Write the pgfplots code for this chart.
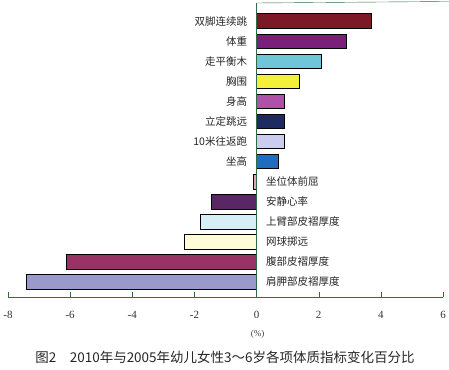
\documentclass[border=0pt]{standalone}
\usepackage{pgfplots}
\pgfplotsset{compat=1.18}
\usepackage{fontspec}
\setmainfont{Liberation Serif}
\newfontfamily\cjk{Noto Sans CJK SC}
\definecolor{axgreen}{HTML}{2F6B45}
\definecolor{c1}{HTML}{7B1A24}
\definecolor{c2}{HTML}{7A1F7C}
\definecolor{c3}{HTML}{6EC6D6}
\definecolor{c4}{HTML}{F3F03A}
\definecolor{c5}{HTML}{B050A8}
\definecolor{c6}{HTML}{1F2A62}
\definecolor{c7}{HTML}{CCCCEE}
\definecolor{c8}{HTML}{1F6CC0}
\definecolor{c9}{HTML}{E4A4AC}
\definecolor{c10}{HTML}{5A2766}
\definecolor{c11}{HTML}{D8EEF6}
\definecolor{c12}{HTML}{FFFCD8}
\definecolor{c13}{HTML}{993366}
\definecolor{c14}{HTML}{9999CC}
\begin{document}
\begin{tikzpicture}
\begin{axis}[
  scale only axis,
  width=435pt, height=294pt,
  xmin=-8, xmax=6,
  ymin=0.1, ymax=14.75,
  y dir=reverse,
  xbar, bar width=14.5pt, bar shift=0pt,
  axis x line=bottom,
  axis y line=none,
  x axis line style={draw=axgreen, -},
  xtick={-8,-6,-4,-2,0,2,4,6},
  xtick style={draw=axgreen, thin},
  xtick align=inside,
  major tick length=5pt,
  ytick=\empty,
  clip=false,
  /pgf/number format/assume math mode=true,
  xticklabel style={font=\fontsize{11}{12}\selectfont, text=black!80, yshift=-11pt},
  every axis plot/.append style={draw=black, line width=0.7pt},
]
\addplot[fill=c1] coordinates {(3.70,1)};
\addplot[fill=c2] coordinates {(2.90,2)};
\addplot[fill=c3] coordinates {(2.09,3)};
\addplot[fill=c4] coordinates {(1.37,4)};
\addplot[fill=c5] coordinates {(0.89,5)};
\addplot[fill=c6] coordinates {(0.89,6)};
\addplot[fill=c7] coordinates {(0.89,7)};
\addplot[fill=c8] coordinates {(0.70,8)};
\addplot[fill=c9] coordinates {(-0.11,9)};
\addplot[fill=c10] coordinates {(-1.45,10)};
\addplot[fill=c11] coordinates {(-1.82,11)};
\addplot[fill=c12] coordinates {(-2.33,12)};
\addplot[fill=c13] coordinates {(-6.12,13)};
\addplot[fill=c14] coordinates {(-7.42,14)};
\draw[axgreen] (axis cs:0,0.1) -- (axis cs:0,14.75);
\draw[axgreen] (axis cs:0,0.1) -- ++(4pt,0);
\begin{scope}[every node/.style={font=\cjk\fontsize{10.5}{12}\selectfont, text=black!85, inner sep=0pt}]
\node[anchor=east] at (axis cs:-0.3,1) {双脚连续跳};
\node[anchor=east] at (axis cs:-0.3,2) {体重};
\node[anchor=east] at (axis cs:-0.3,3) {走平衡木};
\node[anchor=east] at (axis cs:-0.3,4) {胸围};
\node[anchor=east] at (axis cs:-0.3,5) {身高};
\node[anchor=east] at (axis cs:-0.3,6) {立定跳远};
\node[anchor=east] at (axis cs:-0.3,7) {10米往返跑};
\node[anchor=east] at (axis cs:-0.3,8) {坐高};
\node[anchor=west] at (axis cs:0.3,9) {坐位体前屈};
\node[anchor=west] at (axis cs:0.3,10) {安静心率};
\node[anchor=west] at (axis cs:0.3,11) {上臂部皮褶厚度};
\node[anchor=west] at (axis cs:0.3,12) {网球掷远};
\node[anchor=west] at (axis cs:0.3,13) {腹部皮褶厚度};
\node[anchor=west] at (axis cs:0.3,14) {肩胛部皮褶厚度};
\end{scope}
\end{axis}
\node[font=\fontsize{9}{10}\selectfont, text=black!75] at (249.6pt,-37pt) {(\%)};
\node[font=\cjk\fontsize{13.5}{15}\selectfont, text=black!85] at (217pt,-60pt) {图2\hspace{1em}2010年与2005年幼儿女性3～6岁各项体质指标变化百分比};
\pgfresetboundingbox
\path (-8pt,-72pt) rectangle (441pt,297pt);
\end{tikzpicture}
\end{document}
